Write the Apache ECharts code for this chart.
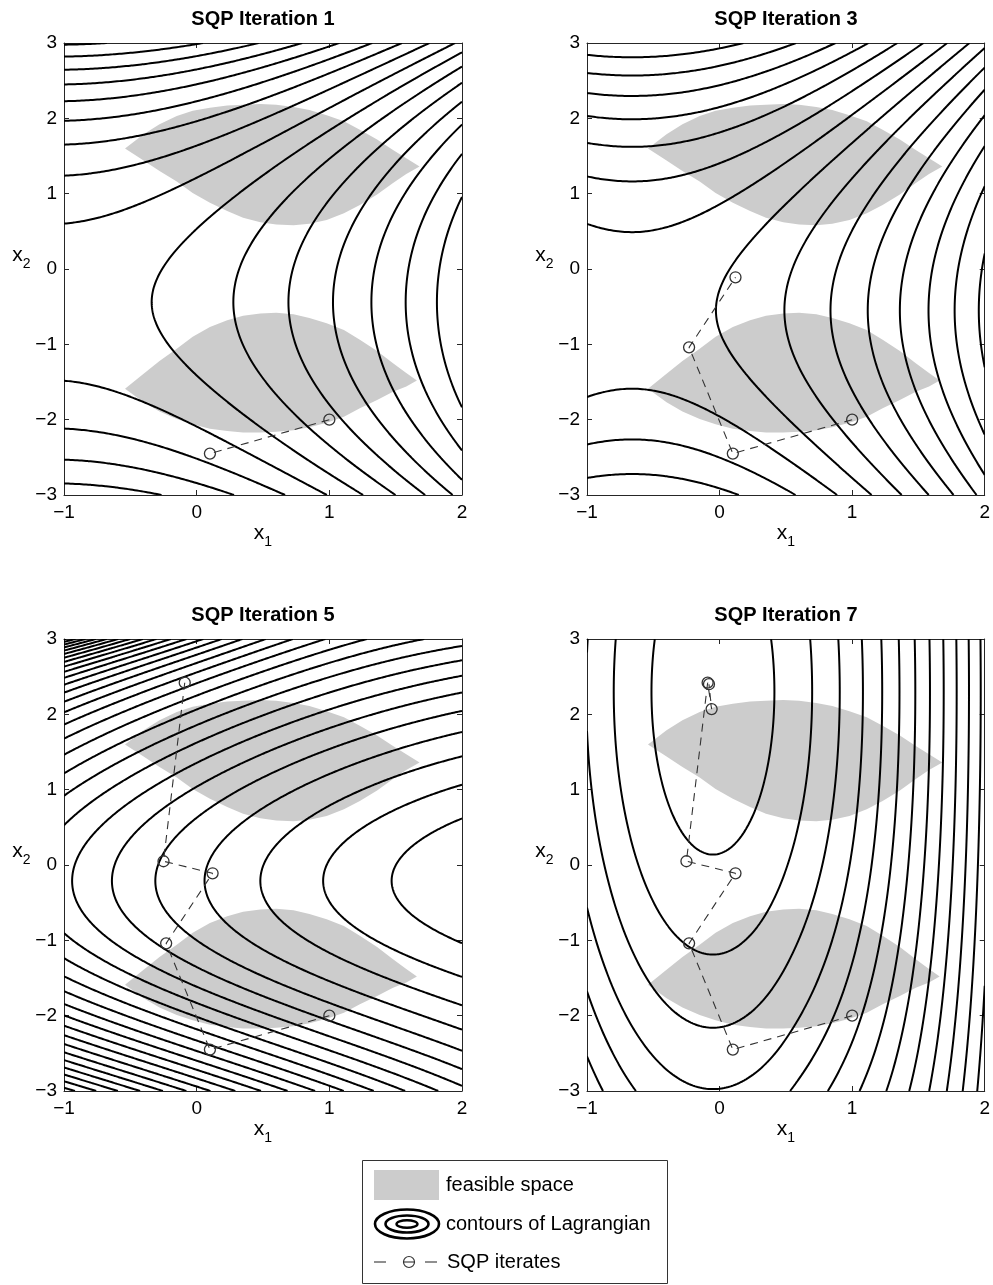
<!DOCTYPE html>
<html><head><meta charset="utf-8"><title>SQP iterations</title>
<script src="https://cdn.jsdelivr.net/npm/echarts@6/dist/echarts.min.js"></script>
<style>html,body{margin:0;padding:0;background:#fff;}#chart{width:993px;height:1285px;}</style>
</head><body><div id="chart"></div>
<script>
const FONT = '"Liberation Sans", Arial, Helvetica, sans-serif';

// ---------- text / ticks ----------
const panelTitles = ['SQP Iteration 1', 'SQP Iteration 3', 'SQP Iteration 5', 'SQP Iteration 7'];
const xTickValues = [-1, 0, 1, 2];
const yTickValues = [-3, -2, -1, 0, 1, 2, 3];
const legendLabels = ['feasible space', 'contours of Lagrangian', 'SQP iterates'];

// ---------- feasible space (x1, x2) ----------
const upperLensTop = [[-0.54,1.60],[-0.40,1.79],[-0.28,1.92],[-0.15,2.03],[-0.03,2.10],[0.10,2.14],[0.23,2.17],[0.35,2.18],[0.48,2.19],[0.60,2.18],[0.73,2.15],[0.85,2.11],[0.98,2.04],[1.11,1.96],[1.23,1.85],[1.36,1.72],[1.48,1.58],[1.58,1.47],[1.68,1.36]];
const upperLensBottom = [[1.58,1.26],[1.48,1.14],[1.36,0.99],[1.23,0.85],[1.11,0.74],[0.98,0.65],[0.85,0.60],[0.73,0.58],[0.60,0.59],[0.48,0.62],[0.35,0.68],[0.23,0.77],[0.10,0.88],[-0.03,1.01],[-0.15,1.16],[-0.28,1.30],[-0.40,1.44]];
const lowerLensTop = [[-0.54,-1.59],[-0.40,-1.39],[-0.28,-1.22],[-0.15,-1.06],[-0.03,-0.90],[0.10,-0.77],[0.23,-0.68],[0.35,-0.62],[0.48,-0.59],[0.60,-0.58],[0.73,-0.60],[0.85,-0.65],[0.98,-0.72],[1.11,-0.81],[1.23,-0.94],[1.36,-1.09],[1.48,-1.25],[1.58,-1.38],[1.66,-1.48]];
const lowerLensBottom = [[1.58,-1.56],[1.48,-1.63],[1.36,-1.74],[1.23,-1.85],[1.11,-1.96],[0.98,-2.04],[0.85,-2.10],[0.73,-2.14],[0.60,-2.16],[0.48,-2.17],[0.35,-2.17],[0.23,-2.15],[0.10,-2.12],[-0.03,-2.06],[-0.15,-1.99],[-0.28,-1.89],[-0.40,-1.77]];

// ---------- SQP iterates x0 .. x7 ----------
const iterX1 = [1.00, 0.10, -0.23, 0.12, -0.25, -0.09, -0.06, -0.08];
const iterX2 = [-2.00, -2.45, -1.04, -0.11, 0.05, 2.42, 2.07, 2.40];
const iteratesShown = [2, 4, 6, 8];

// ---------- Lagrangian contour models (parameters) ----------
// iterations 1 and 3: saddle  (a0 + a2 t^2) u^2 - (b t^2 + e t^4), u = x1 - c, t = x2 - d
const saddle1 = {c: -1.10, d: -0.44, a0: 0.76, a2: 0.01, b: 0.50, e: 0.020};
const saddle3 = {c: -0.66, d: -0.55, a0: 1.087, a2: 0.01, b: 0.517, e: 0.0057};
const levels1 = [-8.56,-7.56,-6.56,-5.56,-4.56,-3.56,-2.56,-1.56,-0.56,0.44,1.44,2.44,3.44,4.44,5.44,6.44];
const levels3 = [-6.565,-5.565,-4.565,-3.565,-2.565,-1.565,-0.565,0.435,1.435,2.435,3.435,4.435,5.435,6.435,7.435];
// iteration 5: bowl opening to the right
const bowl5 = {c: 3.0, d: -0.21, a: 0.444, bl: 1.55, cl: -0.15, el: 0.00172, kl: 2.7, br: 0.87};
const levels5 = [1.04,1.86,2.82,3.84,4.87,5.88,6.89,7.9,8.9,9.9,10.9,11.9,12.9,13.9,14.9,15.9,16.9,17.9,18.9,19.9,20.9,21.9,22.9,23.9,24.9,25.9,26.9,27.9,28.9,29.9,30.9];
// iteration 7: elongated ellipses
const ellipse7 = {c: -0.05, d: 2.30, q: 0.046, x0: 0.5, k: 0.5};
const levels7 = [0.215,0.56,0.915,1.28,1.63,1.98,2.33,2.68,3.03,3.38,3.73,4.08,4.43];

function saddleField(p) {
  return (x, y) => { const u = x - p.c, t = y - p.d; return (p.a0 + p.a2*t*t)*u*u - (p.b*t*t + p.e*t*t*t*t); };
}
function bowlField(p) {
  return (x, y) => {
    const u = x - p.c, t = y - p.d, w = (2 - x) / 3;
    const kl = p.bl*t*t + p.cl*t*t*t, kr = p.br*t*t;
    return p.a*u*u + w*kl + (1 - w)*kr + w*w*w*p.el*Math.exp(p.kl*t);
  };
}
function ellipseField(p) {
  return (x, y) => {
    const u = x - p.c, t = y - p.d, s = Math.max(0, x - p.x0);
    return u*u + p.q*Math.exp(-p.k*s*s)*t*t;
  };
}

// marching squares with chaining into polylines
function traceContours(fn, levels, nx, ny) {
  const X0 = xTickValues[0], X1 = xTickValues[xTickValues.length-1];
  const Y0 = yTickValues[0], Y1 = yTickValues[yTickValues.length-1];
  const dx = (X1-X0)/nx, dy = (Y1-Y0)/ny, W = nx+1;
  const V = new Float64Array(W*(ny+1));
  for (let j = 0; j <= ny; j++) for (let i = 0; i <= nx; i++) V[j*W+i] = fn(X0+i*dx, Y0+j*dy);
  const out = [];
  for (const L of levels) {
    const adj = new Map();
    const link = (a, b) => {
      if (!adj.has(a)) adj.set(a, []); if (!adj.has(b)) adj.set(b, []);
      adj.get(a).push(b); adj.get(b).push(a);
    };
    for (let j = 0; j < ny; j++) for (let i = 0; i < nx; i++) {
      const a = V[j*W+i], b = V[j*W+i+1], c = V[(j+1)*W+i+1], d = V[(j+1)*W+i];
      const sa = a > L, sb = b > L, sc = c > L, sd = d > L;
      if (sa === sb && sb === sc && sc === sd) continue;
      const bottom = 2*(j*W+i), right = 2*(j*W+i+1)+1, top = 2*((j+1)*W+i), left = 2*(j*W+i)+1;
      const e = [];
      if (sa !== sb) e.push(bottom);
      if (sb !== sc) e.push(right);
      if (sd !== sc) e.push(top);
      if (sa !== sd) e.push(left);
      if (e.length === 2) link(e[0], e[1]);
      else if (e.length === 4) {
        const ctr = (a+b+c+d)/4;
        if ((ctr > L) === sa) { link(bottom, right); link(top, left); }
        else { link(bottom, left); link(right, top); }
      }
    }
    const pt = (eid) => {
      const n = eid >> 1, i = n % W, j = (n - i) / W;
      if ((eid & 1) === 0) { const va = V[j*W+i], vb = V[j*W+i+1], t = (L-va)/(vb-va); return [X0+(i+t)*dx, Y0+j*dy]; }
      const va = V[j*W+i], vb = V[(j+1)*W+i], t = (L-va)/(vb-va); return [X0+i*dx, Y0+(j+t)*dy];
    };
    const seen = new Set();
    const walk = (start) => {
      const poly = [pt(start)]; seen.add(start); let cur = start;
      for (;;) {
        const nb = adj.get(cur); let next = -1;
        for (const q of nb) if (!seen.has(q)) { next = q; break; }
        if (next < 0) { if (poly.length > 2 && nb.indexOf(start) >= 0) poly.push(pt(start)); break; }
        seen.add(next); poly.push(pt(next)); cur = next;
      }
      return poly;
    };
    for (const [eid, nb] of adj) if (nb.length === 1 && !seen.has(eid)) out.push(walk(eid));
    for (const [eid] of adj) if (!seen.has(eid)) out.push(walk(eid));
  }
  return out;
}

const panelContours = [
  traceContours(saddleField(saddle1), levels1, 180, 360),
  traceContours(saddleField(saddle3), levels3, 180, 360),
  traceContours(bowlField(bowl5), levels5, 240, 480),
  traceContours(ellipseField(ellipse7), levels7, 180, 360)
];
const lenses = [upperLensTop.concat(upperLensBottom), lowerLensTop.concat(lowerLensBottom)];

// ---------- layout ----------
const gridPos = [[64, 43], [587, 43], [64, 639], [587, 639]];
const GW = 398, GH = 452;
const fmt = v => (v < 0 ? '\u2212' + (-v) : '' + v);
const axisColor = '#262626';

const grids = [], xAxes = [], yAxes = [], series = [], titles = [];
gridPos.forEach((g, k) => {
  grids.push({left: g[0], top: g[1], width: GW, height: GH, show: false});
  const common = {type: 'value', gridIndex: k, splitLine: {show: false},
    axisLine: {show: true, onZero: false, lineStyle: {color: axisColor, width: 1}},
    axisTick: {show: true, inside: true, length: 5, lineStyle: {color: axisColor, width: 1}}};
  const nameRich = {x: {fontSize: 21, fontFamily: FONT, color: '#000', verticalAlign: 'top'},
                    s: {fontSize: 14, fontFamily: FONT, color: '#000', verticalAlign: 'top', padding: [12, 0, 0, 0]}};
  xAxes.push(Object.assign({}, common, {position: 'bottom', min: xTickValues[0], max: xTickValues[xTickValues.length-1], interval: 1,
    axisLabel: {color: '#000', fontSize: 19, fontFamily: FONT, margin: 8, formatter: fmt},
    name: '{x|x}{s|1}', nameLocation: 'middle', nameGap: 28, nameTextStyle: {rich: nameRich}}));
  xAxes.push(Object.assign({}, common, {position: 'top', min: xTickValues[0], max: xTickValues[xTickValues.length-1], interval: 1, axisLabel: {show: false}}));
  yAxes.push(Object.assign({}, common, {position: 'left', min: yTickValues[0], max: yTickValues[yTickValues.length-1], interval: 1,
    axisLabel: {color: '#000', fontSize: 19, fontFamily: FONT, margin: 7, formatter: fmt},
    name: '{x|x}{s|2}', nameLocation: 'middle', nameRotate: 0, nameGap: 29, nameTextStyle: {rich: nameRich, padding: [0, 0, 22, 0]}}));
  yAxes.push(Object.assign({}, common, {position: 'right', min: yTickValues[0], max: yTickValues[yTickValues.length-1], interval: 1, axisLabel: {show: false}}));
  titles.push({text: panelTitles[k], left: g[0] + GW/2, top: g[1] - 34, textAlign: 'center', padding: 0,
    textStyle: {fontSize: 20, fontWeight: 'bold', fontFamily: FONT, color: '#000'}});

  // feasible space
  series.push({type: 'custom', coordinateSystem: 'cartesian2d', xAxisIndex: 2*k, yAxisIndex: 2*k, z: 1, silent: true, animation: false,
    data: lenses.map((ln, i) => [ln[0][0], ln[0][1], i]), encode: {x: 0, y: 1},
    renderItem: (params, api) => ({type: 'polygon', shape: {points: lenses[api.value(2)].map(p => api.coord(p))}, style: {fill: '#cccccc', stroke: null}})});
  // contours of the Lagrangian
  const lines = panelContours[k];
  series.push({type: 'custom', coordinateSystem: 'cartesian2d', xAxisIndex: 2*k, yAxisIndex: 2*k, z: 3, silent: true, animation: false, clip: true,
    data: lines.map((ln, i) => [ln[0][0], ln[0][1], i]), encode: {x: 0, y: 1},
    renderItem: (params, api) => ({type: 'polyline', shape: {points: lines[api.value(2)].map(p => api.coord(p))},
      style: {stroke: '#000', lineWidth: 2.0, fill: null, lineJoin: 'round'}})});
  // SQP iterates
  const pts = [];
  for (let i = 0; i < iteratesShown[k]; i++) pts.push([iterX1[i], iterX2[i]]);
  series.push({type: 'line', xAxisIndex: 2*k, yAxisIndex: 2*k, z: 5, silent: true, animation: false, data: pts,
    symbol: 'circle', symbolSize: 11, showSymbol: true,
    lineStyle: {color: '#333', width: 1.1, type: [8, 6]},
    itemStyle: {color: 'rgba(255,255,255,0)', borderColor: '#333', borderWidth: 1.3}});
});

// ---------- legend box ----------
const LX = 362.5, LY = 1160.5, LW = 305, LH = 123;
const graphic = [
  {type: 'rect', shape: {x: LX, y: LY, width: LW, height: LH}, style: {fill: '#fff', stroke: '#333', lineWidth: 1}, z: 10},
  {type: 'rect', shape: {x: 374, y: 1170, width: 65, height: 30}, style: {fill: '#cccccc'}, z: 11},
  {type: 'text', x: 446, y: 1185, style: {text: legendLabels[0], fontSize: 20, fontFamily: FONT, fill: '#000', textVerticalAlign: 'middle', verticalAlign: 'middle'}, z: 11},
  {type: 'ellipse', shape: {cx: 407, cy: 1224, rx: 32, ry: 14.5}, style: {fill: null, stroke: '#000', lineWidth: 2.6}, z: 11},
  {type: 'ellipse', shape: {cx: 407, cy: 1224, rx: 21.5, ry: 8.5}, style: {fill: null, stroke: '#000', lineWidth: 2.6}, z: 11},
  {type: 'ellipse', shape: {cx: 407, cy: 1224, rx: 10.5, ry: 3.8}, style: {fill: null, stroke: '#000', lineWidth: 2.4}, z: 11},
  {type: 'text', x: 446, y: 1224, style: {text: legendLabels[1], fontSize: 20, fontFamily: FONT, fill: '#000', textVerticalAlign: 'middle', verticalAlign: 'middle'}, z: 11},
  {type: 'line', shape: {x1: 374, y1: 1262, x2: 386, y2: 1262}, style: {stroke: '#333', lineWidth: 1.1}, z: 11},
  {type: 'line', shape: {x1: 403, y1: 1262, x2: 415, y2: 1262}, style: {stroke: '#333', lineWidth: 1.1}, z: 11},
  {type: 'circle', shape: {cx: 409, cy: 1262, r: 5.5}, style: {fill: null, stroke: '#333', lineWidth: 1.2}, z: 11},
  {type: 'line', shape: {x1: 425, y1: 1262, x2: 437, y2: 1262}, style: {stroke: '#333', lineWidth: 1.1}, z: 11},
  {type: 'text', x: 447, y: 1262, style: {text: legendLabels[2], fontSize: 20, fontFamily: FONT, fill: '#000', textVerticalAlign: 'middle', verticalAlign: 'middle'}, z: 11}
];

const chart = echarts.init(document.getElementById('chart'), null, {renderer: 'canvas'});
chart.setOption({
  animation: false, backgroundColor: '#fff',
  title: titles, grid: grids, xAxis: xAxes, yAxis: yAxes, series: series, graphic: graphic
});
</script></body></html>
